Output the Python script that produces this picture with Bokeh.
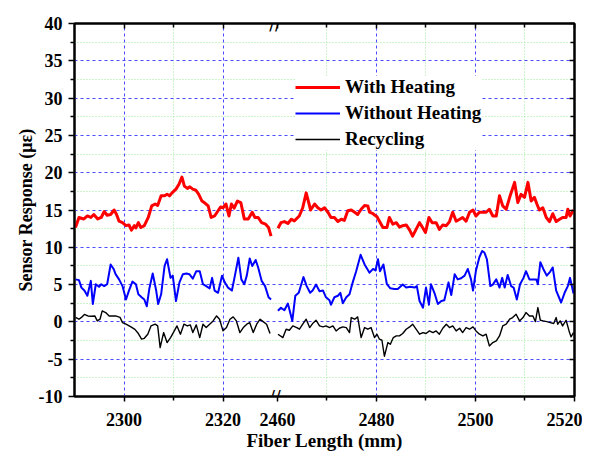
import numpy as np
from bokeh.plotting import figure
from bokeh.models import (FixedTicker, LinearAxis, Legend, LegendItem, Label,
                          CustomJSTickFormatter, Range1d)
from bokeh.embed import file_html
from bokeh.resources import INLINE

# ---------------- data (Fiber length in mm, sensor response in micro-strain) ----------------
with_heating_left = [
    (2290.2, 12.65), (2290.9, 14.0), (2291.9, 13.8), (2292.6, 14.2), (2293.3, 14.0), (2293.9, 14.4),
    (2294.7, 13.8), (2295.4, 14.0), (2296.0, 14.8), (2296.6, 14.3), (2297.3, 14.4), (2298.0, 15.0),
    (2298.5, 14.4), (2299.0, 13.5), (2299.7, 13.3), (2300.4, 12.9), (2301.0, 13.0), (2301.5, 12.3),
    (2302.1, 12.9), (2302.4, 12.6), (2302.9, 13.3), (2303.4, 12.65), (2304.1, 12.9), (2304.9, 14.0),
    (2305.6, 15.55), (2306.3, 15.8), (2306.8, 15.6), (2307.5, 16.9), (2308.2, 16.9), (2308.7, 17.1),
    (2309.2, 16.9), (2309.7, 17.3), (2310.5, 17.8), (2311.1, 18.45), (2311.7, 19.4), (2312.2, 18.2),
    (2312.8, 17.9), (2313.3, 18.1), (2313.9, 17.8), (2314.5, 17.65), (2315.1, 17.1), (2315.75, 16.2),
    (2316.4, 15.9), (2317.0, 15.55), (2317.6, 14.0), (2318.3, 14.2), (2319.0, 14.9), (2319.5, 15.4),
    (2320.0, 15.3), (2320.6, 15.8), (2321.2, 14.2), (2321.7, 15.8), (2322.25, 15.25), (2322.9, 16.2),
    (2323.6, 16.0), (2324.3, 13.8), (2325.1, 13.8), (2325.9, 14.7), (2326.45, 14.0), (2327.1, 14.0),
    (2327.8, 13.3), (2328.6, 13.1), (2329.2, 12.65), (2329.7, 11.5),
]
with_heating_right = [
    (2460.1, 12.56), (2460.7, 13.3), (2461.4, 13.45), (2462.1, 13.2), (2462.8, 13.76), (2463.4, 13.54),
    (2464.1, 14.0), (2464.4, 14.2), (2465.1, 15.3), (2465.8, 17.3), (2466.7, 15.0), (2467.5, 15.8),
    (2468.15, 15.3), (2468.8, 15.0), (2469.5, 15.3), (2470.2, 14.7), (2470.8, 14.0), (2471.5, 14.0),
    (2472.2, 13.45), (2472.9, 13.76), (2473.5, 13.6), (2474.2, 14.9), (2474.9, 15.0), (2475.6, 14.7),
    (2476.2, 14.4), (2476.9, 15.1), (2477.6, 15.6), (2478.25, 15.55), (2478.6, 14.7), (2479.3, 14.5),
    (2480.1, 14.1), (2480.6, 13.5), (2481.3, 12.65), (2482.1, 12.65), (2482.6, 14.0), (2483.3, 13.1),
    (2484.0, 13.3), (2484.65, 12.7), (2485.3, 12.9), (2486.0, 13.0), (2486.7, 12.3), (2487.3, 11.5),
    (2488.0, 12.4), (2488.7, 13.3), (2489.4, 12.56), (2489.9, 12.0), (2490.6, 14.0), (2491.25, 13.3),
    (2492.05, 13.3), (2492.7, 12.4), (2493.4, 13.0), (2494.1, 12.9), (2494.75, 13.45), (2495.4, 14.7),
    (2496.1, 13.5), (2496.8, 13.76), (2497.4, 14.0), (2498.1, 13.5), (2498.8, 14.7), (2499.5, 15.0),
    (2500.1, 14.2), (2500.8, 14.7), (2501.5, 14.7), (2502.15, 14.7), (2502.8, 15.1), (2503.5, 14.2),
    (2504.2, 14.2), (2504.85, 16.9), (2505.5, 15.55), (2506.2, 15.1), (2506.9, 16.7), (2507.9, 18.7),
    (2508.55, 16.0), (2509.2, 17.1), (2509.9, 16.7), (2510.6, 18.7), (2511.25, 16.2), (2511.9, 16.7),
    (2512.4, 15.8), (2512.9, 15.0), (2513.6, 15.3), (2514.3, 14.0), (2514.95, 13.45), (2515.6, 14.5),
    (2516.3, 13.45), (2517.0, 13.76), (2517.6, 14.0), (2518.3, 14.0), (2518.65, 15.1), (2519.1, 14.2),
    (2519.8, 15.0),
]
without_heating_left = [
    (2290.2, 5.7), (2290.9, 5.6), (2291.4, 4.6), (2292.0, 4.2), (2292.6, 3.5), (2293.3, 5.5),
    (2293.7, 2.4), (2294.3, 5.05), (2294.95, 4.7), (2295.4, 5.05), (2296.0, 4.8), (2296.6, 5.05),
    (2297.3, 7.7), (2297.9, 7.1), (2298.3, 6.4), (2299.0, 5.7), (2299.7, 4.8), (2300.4, 3.0),
    (2301.0, 4.2), (2301.7, 5.4), (2302.4, 5.05), (2302.9, 3.7), (2303.55, 3.3), (2304.1, 3.0),
    (2304.6, 2.1), (2305.1, 4.4), (2305.8, 6.5), (2306.5, 4.2), (2306.9, 2.4), (2307.5, 3.7),
    (2308.2, 7.5), (2308.7, 8.4), (2309.4, 5.9), (2309.85, 6.2), (2310.5, 2.8), (2311.2, 5.3),
    (2311.9, 6.4), (2312.6, 6.5), (2313.2, 6.4), (2313.9, 5.8), (2314.6, 6.8), (2315.3, 6.8),
    (2315.95, 5.05), (2316.6, 4.8), (2317.3, 4.5), (2317.8, 5.9), (2318.3, 4.2), (2319.0, 3.9),
    (2319.8, 6.2), (2320.35, 5.3), (2321.0, 4.6), (2321.8, 4.2), (2322.4, 6.2), (2323.1, 8.6),
    (2323.7, 5.7), (2324.3, 5.05), (2324.8, 6.2), (2325.4, 8.5), (2325.9, 7.5), (2326.6, 8.3),
    (2327.1, 7.3), (2327.8, 5.5), (2328.5, 4.8), (2329.2, 3.3), (2329.7, 3.0),
]
without_heating_right = [
    (2460.1, 1.5), (2460.7, 1.9), (2461.4, 1.56), (2462.1, 2.46), (2463.0, 0.13), (2463.6, 3.5),
    (2464.3, 3.9), (2465.25, 6.0), (2465.9, 4.8), (2466.6, 3.9), (2467.1, 4.2), (2467.8, 5.0),
    (2468.5, 4.1), (2469.2, 4.2), (2469.8, 3.3), (2470.5, 2.9), (2470.8, 2.3), (2471.5, 3.3),
    (2472.2, 3.5), (2472.7, 3.9), (2473.2, 2.5), (2473.9, 3.3), (2474.55, 3.7), (2475.2, 5.3),
    (2475.9, 6.8), (2476.8, 9.0), (2477.6, 7.7), (2478.6, 6.6), (2479.3, 7.1), (2479.8, 6.9),
    (2480.3, 8.4), (2480.7, 6.8), (2481.4, 7.7), (2482.1, 5.05), (2482.8, 4.5), (2483.6, 4.4),
    (2484.3, 4.4), (2485.3, 5.0), (2486.0, 4.6), (2486.8, 4.7), (2487.7, 4.6), (2488.15, 4.8),
    (2488.7, 2.8), (2489.4, 1.9), (2490.0, 4.6), (2490.6, 2.3), (2491.0, 5.05), (2491.7, 3.9),
    (2492.4, 2.4), (2493.1, 2.8), (2493.7, 2.9), (2494.55, 5.3), (2495.1, 3.6), (2495.8, 6.4),
    (2496.4, 5.7), (2497.1, 5.85), (2497.8, 6.2), (2498.45, 7.1), (2499.1, 5.7), (2499.5, 4.2),
    (2500.1, 6.9), (2500.8, 8.7), (2501.35, 9.5), (2501.8, 9.3), (2502.3, 8.4), (2503.0, 4.8),
    (2503.5, 5.0), (2504.2, 5.7), (2504.85, 4.6), (2505.4, 5.9), (2505.9, 4.6), (2506.5, 6.3),
    (2507.2, 4.8), (2507.7, 4.6), (2508.35, 3.0), (2509.0, 5.05), (2509.7, 5.9), (2510.2, 6.8),
    (2510.9, 5.7), (2512.3, 5.7), (2512.6, 5.05), (2513.1, 8.0), (2513.7, 7.1), (2514.4, 6.2),
    (2515.1, 6.75), (2515.6, 7.3), (2516.3, 4.2), (2517.3, 2.6), (2518.0, 3.9), (2518.65, 4.8),
    (2519.1, 5.9), (2519.8, 3.8),
]
recycling_left = [
    (2290.2, 0.6), (2290.9, 0.36), (2291.4, 0.6), (2292.0, 1.0), (2292.7, 0.8), (2293.4, 0.76),
    (2294.1, 0.8), (2294.6, 0.13), (2295.15, 0.36), (2295.6, 1.47), (2296.3, 1.25), (2297.0, 0.8),
    (2297.7, 0.8), (2298.3, 0.8), (2299.2, 0.6), (2299.7, -0.1), (2300.4, -0.3), (2301.4, -0.67),
    (2302.2, -1.0), (2302.9, -1.56), (2303.55, -2.3), (2304.1, -2.2), (2304.8, -1.65), (2305.45, -0.54),
    (2306.3, -0.3), (2306.8, -0.54), (2307.3, -3.44), (2308.0, -1.43), (2308.7, -2.77), (2309.4, -2.1),
    (2310.05, -1.34), (2310.7, -0.54), (2311.4, -1.65), (2312.1, -0.31), (2312.8, -0.54), (2313.4, -0.4),
    (2313.9, -1.43), (2314.6, -0.4), (2315.3, -2.1), (2315.95, -0.31), (2316.6, -0.76), (2317.3, -0.31),
    (2318.0, 0.13), (2318.7, 0.8), (2319.3, 0.36), (2320.0, -1.2), (2320.7, -0.76), (2321.4, 0.36),
    (2322.05, 0.67), (2322.7, 0.13), (2323.4, -1.43), (2324.1, -0.76), (2324.8, -0.31), (2325.4, -0.1),
    (2326.1, -1.43), (2326.8, -0.31), (2327.5, 0.36), (2328.1, 0.04), (2328.8, -0.31), (2329.5, -1.56),
]
recycling_right = [
    (2460.1, -1.65), (2461.1, -2.1), (2461.75, -0.98), (2462.4, -1.12), (2463.1, -0.54), (2463.9, -0.76),
    (2464.44, -0.98), (2465.1, -0.31), (2465.8, 0.36), (2466.5, -0.76), (2467.1, -0.22), (2467.8, 0.22),
    (2468.5, -0.54), (2469.2, -0.67), (2469.8, -0.54), (2470.5, -0.76), (2471.2, -0.54), (2471.85, -1.21),
    (2472.5, -0.85), (2473.2, -0.67), (2473.9, -0.76), (2474.55, -1.43), (2474.9, 0.58), (2475.6, 0.36),
    (2476.2, 0.67), (2476.9, -2.1), (2477.6, -0.76), (2478.25, -0.98), (2478.9, -0.76), (2479.6, -2.1),
    (2480.1, -1.65), (2480.6, -2.32), (2481.1, -2.46), (2481.6, -4.6), (2482.3, -2.77), (2482.8, -3.0),
    (2483.4, -2.1), (2484.0, -1.88), (2484.65, -1.88), (2485.3, -1.56), (2486.0, -0.98), (2486.7, -0.67),
    (2487.3, -0.31), (2488.0, -0.98), (2488.7, -1.65), (2489.4, -1.43), (2490.0, -1.56), (2490.7, -1.21),
    (2491.4, -1.43), (2492.05, -1.21), (2492.7, -1.65), (2493.4, -0.85), (2494.1, -0.31), (2494.75, -0.76),
    (2495.4, -0.54), (2496.1, -1.21), (2496.8, -0.85), (2497.4, -1.43), (2498.1, -0.76), (2498.8, -0.98),
    (2499.5, -0.67), (2500.1, -1.21), (2500.8, -1.65), (2501.5, -1.88), (2502.15, -1.65), (2502.8, -3.22),
    (2503.5, -2.77), (2504.2, -2.55), (2504.85, -1.88), (2505.5, -0.54), (2506.2, -0.31), (2506.9, 0.36),
    (2507.5, 0.58), (2508.2, 1.03), (2508.9, 0.13), (2509.6, 0.58), (2510.2, 1.25), (2510.9, 0.8),
    (2511.6, 0.8), (2512.1, 0.04), (2512.6, 1.92), (2513.1, 0.22), (2513.7, 0.13), (2514.4, 0.04),
    (2515.1, -0.09), (2515.8, -0.22), (2516.3, 0.58), (2516.6, -0.31), (2517.1, 0.13), (2517.6, -0.54),
    (2518.3, 0.22), (2518.9, -1.21), (2519.3, -2.01), (2519.8, -1.43),
]

series_names = ["With Heating", "Without Heating", "Recycling"]
x_tick_labels = [2300, 2320, 2460, 2480, 2500, 2520]
x_minor_labels = [2310, 2470, 2490, 2510]
y_ticks = [-10, -5, 0, 5, 10, 15, 20, 25, 30, 35, 40]
x_title = "Fiber Length (mm)"
y_title = "Sensor Response (\u03bc\u03b5)"

# ---------------- broken axis mapping ----------------
LEFT_START, LEFT_END = 2290, 2331
RIGHT_START, RIGHT_END = 2460, 2520


def to_axis(x):
    x = np.asarray(x, dtype=float)
    return np.where(x >= RIGHT_START, x - RIGHT_START + LEFT_END, x)


FONT = "Liberation Serif"

p = figure(frame_width=500, frame_height=373,
           x_range=Range1d(LEFT_START, LEFT_END + RIGHT_END - RIGHT_START),
           y_range=Range1d(-10, 40),
           output_backend="svg", toolbar_location=None,
           min_border_left=74, min_border_top=23, min_border_right=8, min_border_bottom=40)
p.background_fill_color = "white"
p.border_fill_color = "white"
p.outline_line_color = "black"
p.outline_line_width = 2

x_ticker = FixedTicker(ticks=list(to_axis(x_tick_labels)), minor_ticks=list(to_axis(x_minor_labels)))
y_minor = [t + 2.5 for t in y_ticks[:-1]]
y_ticker = FixedTicker(ticks=y_ticks, minor_ticks=y_minor)

fmt = CustomJSTickFormatter(args=dict(b=LEFT_END, r=RIGHT_START),
                            code="return (tick >= b - 0.01 ? tick - b + r : tick).toFixed(0);")
yfmt = CustomJSTickFormatter(code="return tick.toFixed(0);")

for ax in [p.xaxis[0], p.yaxis[0]]:
    ax.major_label_text_font = FONT
    ax.major_label_text_font_style = "bold"
    ax.major_label_text_font_size = "18px"
    ax.major_label_text_color = "black"
    ax.axis_label_text_font = FONT
    ax.axis_label_text_font_style = "bold"
    ax.axis_label_text_color = "black"
    ax.axis_line_width = 2
    ax.major_tick_line_width = 1.5
    ax.minor_tick_line_width = 1.5
    ax.major_tick_in = 0
    ax.minor_tick_in = 0

p.xaxis[0].ticker = x_ticker
p.xaxis[0].formatter = fmt
p.xaxis[0].axis_label = x_title
p.xaxis[0].axis_label_text_font_size = "19px"
p.xaxis[0].major_tick_out = 5
p.xaxis[0].minor_tick_out = 4
p.xaxis[0].major_label_standoff = 11
p.xaxis[0].axis_label_standoff = 1

p.yaxis[0].ticker = y_ticker
p.yaxis[0].formatter = yfmt
p.yaxis[0].axis_label = y_title
p.yaxis[0].axis_label_text_font_size = "18px"
p.yaxis[0].major_tick_out = 6
p.yaxis[0].minor_tick_out = 4
p.yaxis[0].major_label_standoff = 6
p.yaxis[0].axis_label_standoff = 0

top = LinearAxis(ticker=x_ticker, major_label_text_font_size="0px", major_label_text_alpha=0,
                 major_tick_in=5, major_tick_out=0, minor_tick_in=4, minor_tick_out=0,
                 major_label_standoff=0, axis_line_width=2,
                 major_tick_line_width=1.5, minor_tick_line_width=1.5)
right = LinearAxis(ticker=y_ticker, major_label_text_font_size="0px", major_label_text_alpha=0,
                   major_tick_in=5, major_tick_out=0, minor_tick_in=4, minor_tick_out=0,
                   major_label_standoff=0, axis_line_width=2,
                   major_tick_line_width=1.5, minor_tick_line_width=1.5)
p.add_layout(top, "above")
p.add_layout(right, "right")

# grids
p.xgrid.ticker = FixedTicker(ticks=list(to_axis([2300, 2320, 2480, 2500])),
                             minor_ticks=list(to_axis(x_minor_labels)))
for g in [p.xgrid[0], p.ygrid[0]]:
    g.grid_line_color = "#4a4aff"
    g.grid_line_dash = "3 3"
    g.grid_line_width = 1
    g.minor_grid_line_color = "#9be89b"
    g.minor_grid_line_dash = "1 2"
    g.minor_grid_line_width = 1

# lines
styles = [("#ff0000", 3.0), ("#0000ff", 2.0), ("#000000", 1.4)]
data_sets = [(with_heating_left, with_heating_right),
             (without_heating_left, without_heating_right),
             (recycling_left, recycling_right)]
items = []
for name, (color, w), segs in zip(series_names, styles, data_sets):
    rs = []
    for seg in segs:
        xs = to_axis([pt[0] for pt in seg])
        ys = [pt[1] for pt in seg]
        rs.append(p.line(xs, ys, line_color=color, line_width=w, line_join="round"))
    items.append(LegendItem(label=name, renderers=[rs[0]]))

legend = Legend(items=items, location=(221, 246),
                background_fill_color="white", background_fill_alpha=1.0,
                border_line_color=None, glyph_width=45, glyph_height=20,
                label_height=20, label_standoff=5, spacing=4, padding=5, margin=0,
                label_text_font=FONT, label_text_font_style="bold",
                label_text_font_size="19px", label_text_color="black")
p.add_layout(legend)

# axis-break marks
for yv in [40, -10]:
    p.add_layout(Label(x=LEFT_END - 0.5, y=yv, text="//", text_align="center",
                       text_baseline="middle", text_font="DejaVu Sans",
                       text_font_size="17px", text_color="black"))

open("out.html", "w").write(file_html(p, INLINE))
